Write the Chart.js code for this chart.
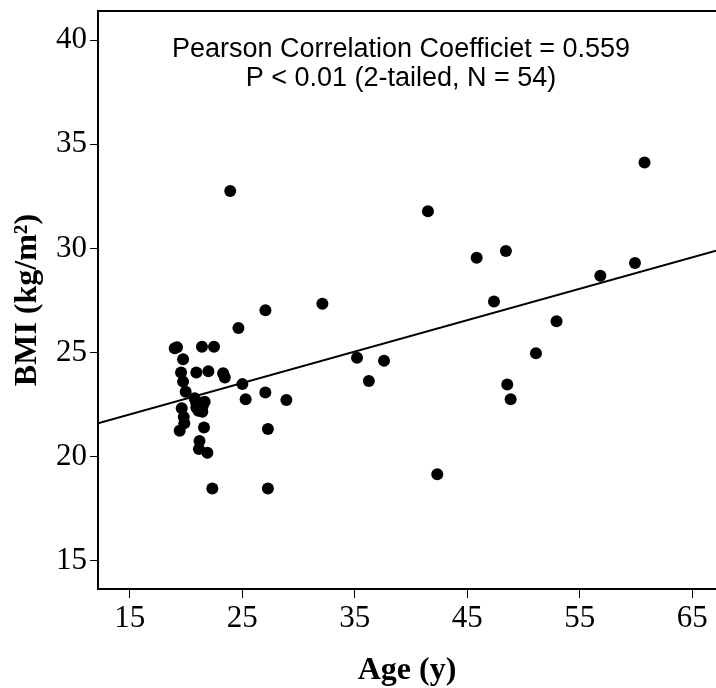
<!DOCTYPE html>
<html>
<head>
<meta charset="utf-8">
<script src="https://cdn.jsdelivr.net/npm/chart.js@4/dist/chart.umd.min.js"></script>
<style>
    body { margin: 0; background: #fff; }
    #wrap { width: 716px; height: 688px; }
</style>
</head>
<body>
<div id="wrap"><canvas id="bmiChart" width="716" height="688"></canvas></div>
<script>
// Age (years) and BMI for each subject (N = 54)
const ages = [23.93, 60.75, 41.5, 45.83, 48.43, 59.9, 56.82, 47.37, 32.12, 27.06,
    24.66, 52.93, 51.1, 35.2, 37.6, 36.25, 48.55, 48.85, 42.33, 27.28,
    22.34, 27.28, 27.05, 28.92, 25.3, 25.01, 23.3, 23.45, 21.42, 22.49,
    21.99, 20.92, 19.0, 19.2, 19.74, 19.56, 19.74, 19.97, 19.62, 19.8,
    19.85, 19.44, 20.77, 21.66, 21.2, 20.92, 21.45, 21.6, 21.2, 21.15,
    21.9, 21.1, 21.5, 20.9];
const bmi = [32.75, 34.12, 31.78, 29.55, 29.87, 29.3, 28.69, 27.45, 27.34, 27.03,
    26.18, 26.5, 24.96, 24.75, 24.6, 23.63, 23.46, 22.75, 19.15, 18.47,
    18.47, 21.32, 23.08, 22.72, 22.75, 23.48, 24.0, 23.8, 25.27, 25.27,
    24.1, 24.04, 25.2, 25.25, 24.68, 24.04, 23.6, 23.11, 22.32, 21.9,
    21.6, 21.24, 22.8, 22.63, 22.55, 22.36, 22.15, 21.4, 20.75, 20.36,
    20.18, 22.2, 22.45, 22.6];

// fitted regression line end points
const fitX = [12.18, 67.1];
const fitY = [21.6, 29.89];

// tick labels
const xTicks = [15, 25, 35, 45, 55, 65];
const yTicks = [15, 20, 25, 30, 35, 40];

const annotationLines = ['Pearson Correlation Coefficiet = 0.559', 'P < 0.01 (2-tailed, N = 54)'];

const points = ages.map((a, i) => ({ x: a, y: bmi[i] }));
const fitLine = fitX.map((x, i) => ({ x: x, y: fitY[i] }));

// draws the top frame line and the correlation text
const extrasPlugin = {
    id: 'extras',
    afterDraw(chart) {
        const ctx = chart.ctx;
        const area = chart.chartArea;
        ctx.save();
        ctx.strokeStyle = '#000';
        ctx.lineWidth = 2;
        ctx.beginPath();
        ctx.moveTo(area.left, area.top);
        ctx.lineTo(area.right, area.top);
        ctx.stroke();

        ctx.fillStyle = '#000';
        ctx.font = '27px "Liberation Sans", Arial, sans-serif';
        ctx.textAlign = 'center';
        ctx.textBaseline = 'middle';
        annotationLines.forEach((line, i) => {
            ctx.fillText(line, 401, 50 + i * 29);
        });
        ctx.restore();
    }
};

// keep the labels from pushing the plot area inwards
function noPadding(scale) {
    scale.paddingLeft = 0;
    scale.paddingRight = 0;
    scale.paddingTop = 0;
    scale.paddingBottom = 0;
}

const tickFont = { family: '"Liberation Serif", "Times New Roman", serif', size: 31 };
const titleFont = { family: '"Liberation Serif", "Times New Roman", serif', size: 32, weight: 'bold', lineHeight: 1 };

new Chart(document.getElementById('bmiChart').getContext('2d'), {
    type: 'scatter',
    data: {
        datasets: [
            {
                label: 'BMI',
                data: points,
                backgroundColor: '#000',
                borderWidth: 0,
                pointRadius: 6,
                order: 2
            },
            {
                label: 'Fit',
                type: 'line',
                data: fitLine,
                borderColor: '#000',
                borderWidth: 2,
                pointRadius: 0,
                fill: false,
                order: 1
            }
        ]
    },
    options: {
        responsive: false,
        animation: false,
        devicePixelRatio: 1,
        layout: { autoPadding: false, padding: { top: 11, right: 0, left: 0, bottom: 0 } },
        plugins: {
            legend: { display: false },
            tooltip: { enabled: false }
        },
        scales: {
            x: {
                type: 'linear',
                min: 12.18,
                max: 67.1,
                afterBuildTicks: scale => { scale.ticks = xTicks.map(v => ({ value: v })); },
                afterFit: scale => { scale.height = 99; noPadding(scale); },
                grid: { drawOnChartArea: false, drawTicks: true, tickLength: 9, color: '#000', lineWidth: 1 },
                border: { display: true, color: '#000', width: 2 },
                ticks: { color: '#000', font: tickFont, padding: 2, maxRotation: 0 },
                title: { display: true, text: 'Age (y)', color: '#000', font: titleFont, padding: { top: 0, bottom: 1 } }
            },
            y: {
                type: 'linear',
                min: 13.64,
                max: 41.4,
                afterBuildTicks: scale => { scale.ticks = yTicks.map(v => ({ value: v })); },
                afterFit: scale => { scale.width = 98; noPadding(scale); },
                grid: { drawOnChartArea: false, drawTicks: true, tickLength: 8, color: '#000', lineWidth: 1 },
                border: { display: true, color: '#000', width: 2 },
                ticks: { color: '#000', font: tickFont, padding: 3 },
                title: { display: true, text: 'BMI (kg/m²)', color: '#000', font: titleFont, padding: { top: 12, bottom: 0 } }
            }
        }
    },
    plugins: [extrasPlugin]
});
</script>
</body>
</html>
